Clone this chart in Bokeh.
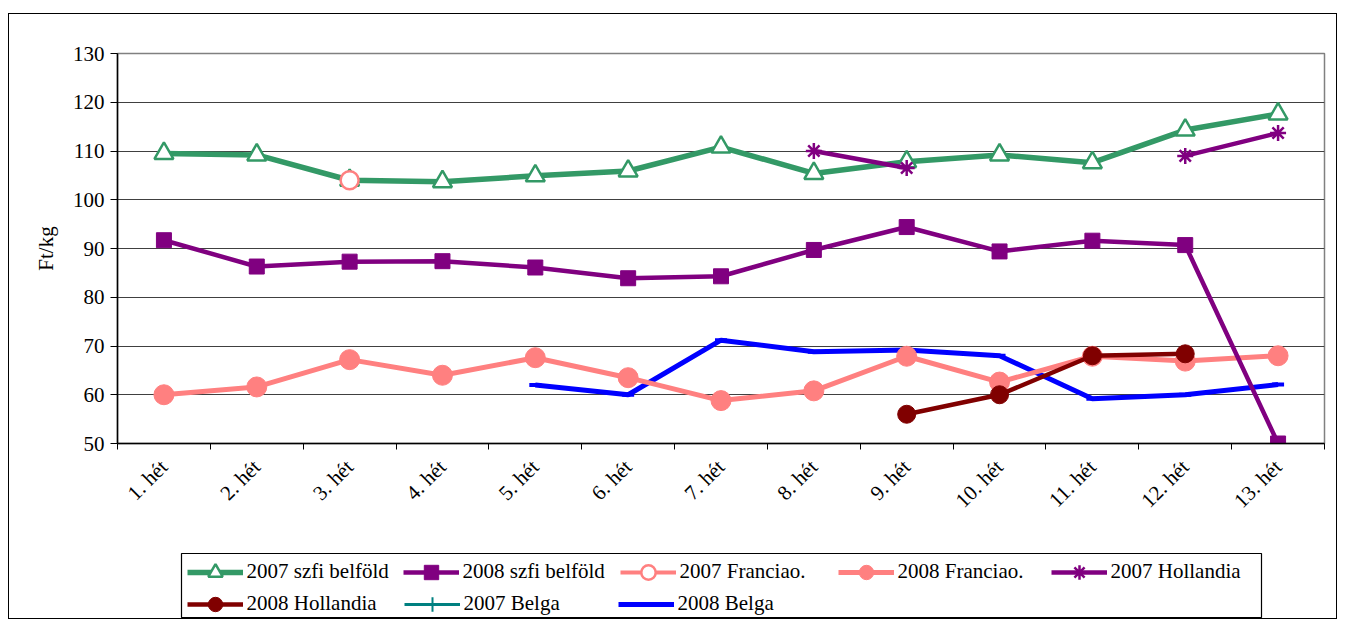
import math
from bokeh.plotting import figure
from bokeh.layouts import column
from bokeh.models import FixedTicker, Legend, LegendItem, Range1d
from bokeh.embed import file_html
from bokeh.resources import INLINE

nan = float("nan")

weeks = ["1. hét", "2. hét", "3. hét", "4. hét", "5. hét", "6. hét", "7. hét",
         "8. hét", "9. hét", "10. hét", "11. hét", "12. hét", "13. hét"]

szfi_2007 = [109.5, 109.2, 104.0, 103.7, 104.9, 105.9, 110.8, 105.4, 107.8, 109.2, 107.6, 114.3, 117.6]
szfi_2008 = [91.7, 86.3, 87.3, 87.4, 86.1, 83.9, 84.3, 89.7, 94.4, 89.4, 91.6, 90.7, 50.0]
francia_2007 = [nan, nan, 104.0, nan, nan, nan, nan, nan, nan, nan, nan, nan, nan]
francia_2008 = [60.0, 61.6, 67.2, 64.0, 67.6, 63.5, 58.8, 60.8, 67.9, 62.6, 67.9, 66.9, 68.0]
hollandia_2007 = [nan, nan, nan, nan, nan, nan, nan, 110.0, 106.5, nan, nan, 109.0, 113.7]
hollandia_2008 = [nan, nan, nan, nan, nan, nan, nan, nan, 56.0, 60.0, 68.0, 68.4, nan]
belga_2007 = [nan] * 13
belga_2008 = [nan, nan, nan, nan, 62.0, 60.0, 71.2, 68.8, 69.2, 68.0, 59.2, 60.0, 62.1]

y_ticks = [50, 60, 70, 80, 90, 100, 110, 120, 130]

x = list(range(1, len(weeks) + 1))
bounds = [i + 0.5 for i in range(0, len(weeks) + 1)]

FONT = "Liberation Serif"

# series styles: label, values, colour, line width, marker, marker size, fill, marker line width
styles = [
    ("2008 Belga", belga_2008, "#0000FF", 5, "dash", 12, "#0000FF", 4),
    ("2007 Belga", belga_2007, "#008080", 3, "cross", 14, "#008080", 2),
    ("2008 Franciao.", francia_2008, "#FF8080", 5, "circle", 20, "#FF8080", 1),
    ("2008 Hollandia", hollandia_2008, "#800000", 4.5, "circle", 18, "#800000", 1),
    ("2008 szfi belföld", szfi_2008, "#800080", 4.5, "square", 15, "#800080", 1),
    ("2007 szfi belföld", szfi_2007, "#339966", 5.5, "triangle", 19, "white", 2.5),
    ("2007 Franciao.", francia_2007, "#FF8080", 4, "circle", 18, "white", 2.5),
    ("2007 Hollandia", hollandia_2007, "#800080", 4.5, "asterisk", 16, "#800080", 2.5),
]

# ---------------- main chart ----------------
p = figure(width=1327, height=525, output_backend="svg", toolbar_location=None,
           x_range=Range1d(0.5, len(weeks) + 0.5), y_range=Range1d(50, 130),
           min_border_left=108, min_border_right=12, min_border_top=39, min_border_bottom=96)
p.frame_align = False
p.background_fill_color = "white"
p.border_fill_color = "white"
p.outline_line_color = "#808080"
p.outline_line_width = 1.5

p.xaxis.ticker = FixedTicker(ticks=x, minor_ticks=bounds)
p.xaxis.major_label_overrides = {i: w for i, w in zip(x, weeks)}
p.xaxis.major_label_orientation = math.pi / 4
p.xaxis.major_tick_line_color = None
p.xaxis.minor_tick_out = 6
p.xaxis.minor_tick_in = 0
p.xaxis.minor_tick_line_color = "black"
p.xaxis.major_label_standoff = 14
p.yaxis.ticker = FixedTicker(ticks=y_ticks)
p.yaxis.minor_tick_line_color = None
p.yaxis.major_tick_out = 7
p.yaxis.major_tick_in = 0
p.yaxis.major_label_standoff = 6
p.yaxis.axis_label = "Ft/kg"
p.yaxis.axis_label_standoff = 12
for ax in (p.xaxis, p.yaxis):
    ax.axis_line_color = "black"
    ax.axis_line_width = 1.5
    ax.major_label_text_font = FONT
    ax.major_label_text_font_size = "21px"
    ax.major_label_text_color = "black"
    ax.axis_label_text_font = FONT
    ax.axis_label_text_font_size = "21px"
    ax.axis_label_text_font_style = "normal"
    ax.axis_label_text_color = "black"
p.xgrid.grid_line_color = None
p.ygrid.ticker = FixedTicker(ticks=y_ticks)
p.ygrid.grid_line_color = "#404040"
p.ygrid.grid_line_width = 1.2

for label, vals, color, lw, marker, size, fill, mlw in styles:
    p.line(x, vals, line_color=color, line_width=lw)
    p.scatter(x, vals, marker=marker, size=size, line_color=color,
              fill_color=fill, line_width=mlw)

# ---------------- legend panel ----------------
lg = figure(width=1327, height=79, output_backend="svg", toolbar_location=None,
            x_axis_type=None, y_axis_type=None,
            x_range=Range1d(0, 1), y_range=Range1d(0, 1),
            min_border_left=172, min_border_right=75, min_border_top=14, min_border_bottom=0)
lg.frame_align = False
lg.xgrid.grid_line_color = None
lg.ygrid.grid_line_color = None
lg.outline_line_color = "black"
lg.outline_line_width = 1.2
lg.background_fill_color = "white"
lg.border_fill_color = "white"

legend_rends = {}
for label, vals, color, lw, marker, size, fill, mlw in styles:
    ln = lg.line([nan], [nan], line_color=color, line_width=lw)
    mk = lg.scatter([nan], [nan], marker=marker, size=size, line_color=color,
                    fill_color=fill, line_width=mlw)
    legend_rends[label] = [ln, mk]

# legend entries: label, glyph start x on page, row centre y on page
entries = [
    ("2007 szfi belföld", 187, 572), ("2008 szfi belföld", 403, 572),
    ("2007 Franciao.", 620, 572), ("2008 Franciao.", 838, 572),
    ("2007 Hollandia", 1051, 572),
    ("2008 Hollandia", 187, 604), ("2007 Belga", 404, 604), ("2008 Belga", 618, 604),
]
FRAME_LEFT_PAGE = 181.5
CANVAS_TOP_PAGE = 539.5
FRAME_BOTTOM_CANVAS = 79
GH = 36
for label, gx, rc in entries:
    bottom_canvas = rc + GH / 2 - CANVAS_TOP_PAGE
    leg = Legend(items=[LegendItem(label=label, renderers=legend_rends[label])],
                 location=(gx - FRAME_LEFT_PAGE, FRAME_BOTTOM_CANVAS - bottom_canvas),
                 border_line_color=None, background_fill_alpha=0,
                 padding=0, margin=0, spacing=0,
                 glyph_width=56, glyph_height=GH, label_height=20, label_standoff=4,
                 label_text_font=FONT, label_text_font_size="21px", label_text_color="black")
    lg.add_layout(leg)

layout = column(p, lg, spacing=0,
                styles={"border": "1.5px solid black", "margin-left": "8px", "margin-top": "13px"})

open("out.html", "w").write(file_html(layout, INLINE))
